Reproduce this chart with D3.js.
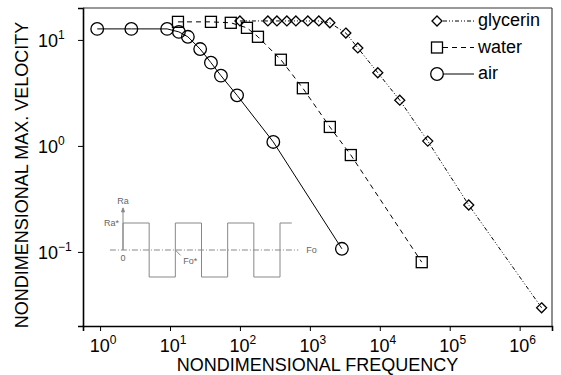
<!DOCTYPE html>
<html>
<head>
<meta charset="utf-8">
<script src="https://cdn.jsdelivr.net/npm/d3@7"></script>
<style>
  body { margin: 0; background: #fff; }
  text { font-family: "Liberation Sans", Arial, sans-serif; }
</style>
</head>
<body>
<svg id="chart" width="561" height="375"></svg>
<script>
// data
var airFreq = [0.91, 2.8, 9.1, 13.4, 18, 27, 38.5, 53.5, 91, 300, 2870];
var airVel  = [12.7, 12.7, 12.7, 11.9, 10.7, 8.2, 6.1, 4.6, 3.0, 1.09, 0.107];

var waterFreq = [13, 38.5, 74, 126, 181, 385, 794, 1930, 3850, 39800];
var waterVel  = [14.8, 14.8, 14.5, 13.0, 10.7, 6.5, 3.5, 1.51, 0.82, 0.080];

var glyFreq = [100, 251, 338, 469, 631, 936, 1344, 1930, 3270, 4850, 9360, 19300, 48500, 187000, 2.06e6];
var glyVel  = [15.1, 15.1, 15.1, 15.1, 15.1, 15.1, 15.1, 14.5, 11.6, 8.4, 4.9, 2.7, 1.11, 0.277, 0.0297];

var xExponents = [0, 1, 2, 3, 4, 5, 6];
var yExponents = [-1, 0, 1];

var seriesNames = ["glycerin", "water", "air"];

// square wave of the inset, in half periods
var waveEdges = [0, 1, 2, 3, 4, 5, 6];
var waveEnd = 6.45;

var svg = d3.select("#chart");
var pLeft = 83, pRight = 552, pTop = 8, pBottom = 326;

var x = d3.scaleLog().domain([0.57, 2.9e6]).range([pLeft, pRight]);
var y = d3.scaleLog().domain([0.02, 20]).range([pBottom, pTop]);

var sup = function(e) { return e < 0 ? "\u2212" + (-e) : "" + e; };

// minor ticks
var minorX = [], minorY = [];
for (var e = -1; e <= 6; e++) {
	for (var k = 2; k <= 9; k++) {
		var v = k * Math.pow(10, e);
		if (v > 0.57 && v < 2.9e6) minorX.push(v);
	}
}
for (var e = -2; e <= 1; e++) {
	for (var k = 2; k <= 9; k++) {
		var v = k * Math.pow(10, e);
		if (v > 0.02 && v < 20) minorY.push(v);
	}
}

var gx = svg.append("g").attr("transform", "translate(0," + pBottom + ")");
gx.call(d3.axisBottom(x).tickValues(minorX).tickSize(3).tickFormat(""));
gx.call(d3.axisBottom(x).tickValues(xExponents.map(function(e) { return Math.pow(10, e); })).tickSize(5).tickFormat(""));

var gy = svg.append("g").attr("transform", "translate(" + pLeft + ",0)");
gy.call(d3.axisLeft(y).tickValues(minorY).tickSize(3).tickFormat(""));
gy.call(d3.axisLeft(y).tickValues(yExponents.map(function(e) { return Math.pow(10, e); })).tickSize(5).tickFormat(""));

svg.selectAll(".domain").attr("stroke-width", 1.6);
svg.selectAll(".tick line").attr("stroke-width", 1);

// top / right frame
svg.append("line").attr("x1", pLeft).attr("x2", pRight).attr("y1", pTop).attr("y2", pTop)
	.attr("stroke", "#333").attr("stroke-width", 1.1);
svg.append("line").attr("x1", pRight).attr("x2", pRight).attr("y1", pTop).attr("y2", pBottom)
	.attr("stroke", "#333").attr("stroke-width", 1.1);

// tick labels
svg.selectAll(".xlab")
		.data(xExponents)
	.enter().append("text")
		.attr("x", function(d) { return x(Math.pow(10, d)) + 3; })
		.attr("y", 352)
		.attr("text-anchor", "middle")
		.style("font-size", "18px")
		.each(function(d) {
			d3.select(this).append("tspan").text("10");
			d3.select(this).append("tspan").attr("dy", -8).style("font-size", "12px").text(sup(d));
		});

svg.selectAll(".ylab")
		.data(yExponents)
	.enter().append("text")
		.attr("x", 38)
		.attr("y", function(d) { return y(Math.pow(10, d)) + 7; })
		.attr("text-anchor", "start")
		.style("font-size", "18px")
		.each(function(d) {
			d3.select(this).append("tspan").text("10");
			d3.select(this).append("tspan").attr("dy", -8).style("font-size", "12px").text(sup(d));
		});

// axis titles
svg.append("text")
	.attr("x", (pLeft + pRight) / 2).attr("y", 371)
	.attr("text-anchor", "middle")
	.style("font-size", "18px")
	.text("NONDIMENSIONAL FREQUENCY");

svg.append("text")
	.attr("transform", "translate(28," + ((pTop + pBottom) / 2 + 8) + ") rotate(-90)")
	.attr("text-anchor", "middle")
	.style("font-size", "18px")
	.text("NONDIMENSIONAL MAX. VELOCITY");

// inset schematic
var ix = d3.scaleLinear().domain([0, 6]).range([123, 280]);
var iy = d3.scaleLinear().domain([-1, 1]).range([277, 223]);
var inset = svg.append("g").attr("stroke", "#888").attr("fill", "none").attr("stroke-width", 1);

inset.append("line").attr("x1", ix(-0.5)).attr("x2", ix(6.7)).attr("y1", iy(0)).attr("y2", iy(0))
	.attr("stroke-dasharray", "6,2,1,2");
inset.append("line").attr("x1", ix(0)).attr("x2", ix(0)).attr("y1", iy(0)).attr("y2", iy(1.45));
inset.append("path").attr("d", "M" + ix(0) + "," + (iy(1.45) - 3) + "l-1.5,4h3z").attr("fill", "#888");

var wave = [[0, 0]];
waveEdges.forEach(function(t, i) {
	var from = i % 2 == 0 ? -1 : 1, to = -from;
	if (i == 0) from = 0;
	wave.push([t, from]);
	wave.push([t, to]);
});
wave.push([waveEnd, 1]);
inset.append("path")
	.attr("d", d3.line().x(function(p) { return ix(p[0]); }).y(function(p) { return iy(p[1]); })(wave));

inset.append("line").attr("x1", ix(2)).attr("x2", ix(2.2)).attr("y1", iy(0)).attr("y2", iy(-0.2));

var insetText = svg.append("g").style("font-family", "'Liberation Serif', serif").style("font-size", "9px").attr("fill", "#666");
insetText.append("text").attr("x", ix(0)).attr("y", iy(1.72)).attr("text-anchor", "middle").text("Ra");
insetText.append("text").attr("x", ix(0) - 4).attr("y", iy(1) + 3).attr("text-anchor", "end").text("Ra*");
insetText.append("text").attr("x", ix(0)).attr("y", iy(-0.4)).attr("text-anchor", "middle").text("0");
insetText.append("text").attr("x", ix(2.3)).attr("y", iy(-0.5)).text("Fo*");
insetText.append("text").attr("x", ix(7)).attr("y", iy(0) + 3).text("Fo");

// series
var series = [
	{name: "glycerin", f: glyFreq, v: glyVel, dash: "4,2,1,2,1,2", shape: "diamond"},
	{name: "water", f: waterFreq, v: waterVel, dash: "5,4", shape: "square"},
	{name: "air", f: airFreq, v: airVel, dash: null, shape: "circle"}
];

var marker = function(g, shape, cx, cy) {
	if (shape == "circle") {
		g.append("circle").attr("cx", cx).attr("cy", cy).attr("r", 6.3);
	} else if (shape == "square") {
		g.append("rect").attr("x", cx - 5.5).attr("y", cy - 5.5).attr("width", 11).attr("height", 11);
	} else {
		g.append("path").attr("d", "M" + cx + "," + (cy - 5) + "l5,5l-5,5l-5,-5z");
	}
};

var line = d3.line().x(function(p) { return x(p[0]); }).y(function(p) { return y(p[1]); });

series.forEach(function(s) {
	var pts = s.f.map(function(f, i) { return [f, s.v[i]]; });
	svg.append("path")
		.attr("d", line(pts))
		.attr("fill", "none")
		.attr("stroke", "#000")
		.attr("stroke-width", 1)
		.attr("stroke-dasharray", s.dash);
	var mg = svg.append("g").attr("fill", "none").attr("stroke", "#000").attr("stroke-width", 1.3);
	pts.forEach(function(p) { marker(mg, s.shape, x(p[0]), y(p[1])); });
});

// legend
series.forEach(function(s, i) {
	var ly = 21 + i * 26.5;
	svg.append("line").attr("x1", 443).attr("x2", 474).attr("y1", ly).attr("y2", ly)
		.attr("stroke", "#000").attr("stroke-width", 1).attr("stroke-dasharray", s.dash);
	var mg = svg.append("g").attr("fill", "#fff").attr("stroke", "#000").attr("stroke-width", 1.3);
	marker(mg, s.shape, 437, ly);
	svg.append("text").attr("x", 478).attr("y", ly + 5).style("font-size", "18px").text(s.name);
});
</script>
</body>
</html>
